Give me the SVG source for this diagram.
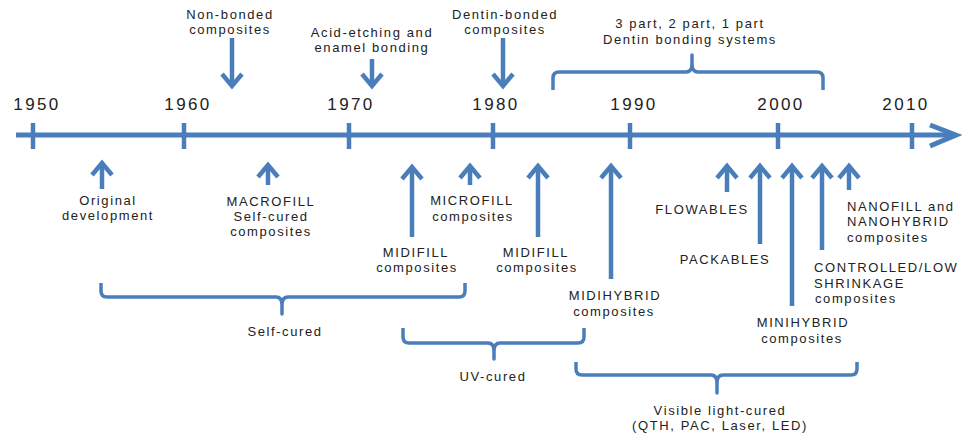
<svg xmlns="http://www.w3.org/2000/svg" width="962" height="439" viewBox="0 0 962 439">
<style>
  text { font-family: "Liberation Sans", Arial, sans-serif; fill: #222; font-size: 13px; letter-spacing: 1.6px; }
  .c { text-anchor: middle; }
  .yr { font-size: 17px; letter-spacing: 2.4px; text-anchor: middle; }
  .arr { stroke: #4a7ebb; stroke-width: 4.5; fill: none; marker-end: url(#ah); }
  .axis { stroke: #4a7ebb; stroke-width: 5; fill: none; }
  .tick { stroke: #4a7ebb; stroke-width: 4.5; }
  .brace { stroke: #4a7ebb; stroke-width: 3.5; fill: none; stroke-linejoin: round; }
</style>
<defs>
  <marker id="ah" markerUnits="userSpaceOnUse" viewBox="-16 -13 20 26" markerWidth="20" markerHeight="26" refX="0" refY="0" orient="auto" overflow="visible">
    <path d="M-12,-10 L0,0 L-12,10" fill="none" stroke="#4a7ebb" stroke-width="4.5"/>
  </marker>
</defs>

<g id="timeline">
  <line class="axis" x1="16" y1="135" x2="955" y2="135"/>
  <path class="axis" d="M930,125 L956,135 L930,146"/>
  <line class="tick" x1="33" y1="123" x2="33" y2="149"/>
  <line class="tick" x1="184" y1="123" x2="184" y2="149"/>
  <line class="tick" x1="349" y1="123" x2="349" y2="149"/>
  <line class="tick" x1="493" y1="123" x2="493" y2="149"/>
  <line class="tick" x1="630" y1="123" x2="630" y2="149"/>
  <line class="tick" x1="778" y1="123" x2="778" y2="149"/>
  <line class="tick" x1="912" y1="123" x2="912" y2="149"/>
  <text class="yr" x="37" y="110">1950</text>
  <text class="yr" x="188" y="110">1960</text>
  <text class="yr" x="351" y="110">1970</text>
  <text class="yr" x="496" y="110">1980</text>
  <text class="yr" x="634" y="110">1990</text>
  <text class="yr" x="781" y="110">2000</text>
  <text class="yr" x="906" y="110">2010</text>
</g>

<g id="connectors">
  <line class="arr" x1="232" y1="38" x2="232" y2="86"/>
  <line class="arr" x1="372" y1="59" x2="372" y2="86"/>
  <line class="arr" x1="503" y1="38" x2="503" y2="86"/>
  <line class="arr" x1="102" y1="189" x2="102" y2="163"/>
  <line class="arr" x1="268" y1="185" x2="268" y2="165"/>
  <line class="arr" x1="412" y1="237" x2="412" y2="167"/>
  <line class="arr" x1="470" y1="185" x2="470" y2="166"/>
  <line class="arr" x1="538" y1="237" x2="538" y2="166"/>
  <line class="arr" x1="611" y1="279" x2="611" y2="166"/>
  <line class="arr" x1="727" y1="192" x2="727" y2="166"/>
  <line class="arr" x1="760" y1="244" x2="760" y2="166"/>
  <line class="arr" x1="792" y1="306" x2="792" y2="166"/>
  <line class="arr" x1="822" y1="250" x2="822" y2="166"/>
  <line class="arr" x1="849" y1="190" x2="849" y2="166"/>
</g>

<g id="braces">
  <path class="brace" d="M553,90 V78 Q553,72 559,72 H686 Q692,72 692,64 V55 V64 Q692,72 698,72 H817 Q823,72 823,78 V90"/>
  <path class="brace" d="M101,283 V291 Q101,297 107,297 H276 Q282,297 282,305 V314 V305 Q282,297 288,297 H459 Q465,297 465,291 V283"/>
  <path class="brace" d="M403,328 V337 Q403,343 409,343 H488 Q494,343 494,351 V359 V351 Q494,343 500,343 H578 Q584,343 584,337 V328"/>
  <path class="brace" d="M576,362 V369 Q576,375 582,375 H711 Q717,375 717,383 V393 V383 Q717,375 723,375 H851 Q857,375 857,369 V362"/>
</g>

<g id="non-bonded">
  <text class="c" x="230" y="19">Non-bonded</text>
  <text class="c" x="230" y="34">composites</text>
</g>
<g id="acid-etching">
  <text class="c" x="372" y="37">Acid-etching and</text>
  <text class="c" x="372" y="52">enamel bonding</text>
</g>
<g id="dentin-bonded">
  <text class="c" x="505" y="19">Dentin-bonded</text>
  <text class="c" x="505" y="34">composites</text>
</g>
<g id="dentin-systems">
  <text class="c" x="690" y="28">3 part, 2 part, 1 part</text>
  <text class="c" x="690" y="44">Dentin bonding systems</text>
</g>
<g id="original">
  <text class="c" x="108" y="205">Original</text>
  <text class="c" x="108" y="220">development</text>
</g>
<g id="macrofill">
  <text class="c" x="271" y="206">MACROFILL</text>
  <text class="c" x="271" y="221">Self-cured</text>
  <text class="c" x="271" y="236">composites</text>
</g>
<g id="midifill-1">
  <text class="c" x="416" y="257">MIDIFILL</text>
  <text class="c" x="417" y="272">composites</text>
</g>
<g id="microfill">
  <text class="c" x="472" y="205">MICROFILL</text>
  <text class="c" x="473" y="221">composites</text>
</g>
<g id="midifill-2">
  <text class="c" x="536" y="257">MIDIFILL</text>
  <text class="c" x="537" y="272">composites</text>
</g>
<g id="midihybrid">
  <text class="c" x="615" y="300">MIDIHYBRID</text>
  <text class="c" x="614" y="316">composites</text>
</g>
<g id="flowables">
  <text class="c" x="702" y="214">FLOWABLES</text>
</g>
<g id="packables">
  <text class="c" x="725" y="264">PACKABLES</text>
</g>
<g id="minihybrid">
  <text class="c" x="803" y="327">MINIHYBRID</text>
  <text class="c" x="802" y="343">composites</text>
</g>
<g id="controlled">
  <text x="814" y="272">CONTROLLED/LOW</text>
  <text x="814" y="288">SHRINKAGE</text>
  <text x="815" y="303">composites</text>
</g>
<g id="nanofill">
  <text x="847" y="211">NANOFILL and</text>
  <text x="847" y="226">NANOHYBRID</text>
  <text x="847" y="242">composites</text>
</g>
<g id="self-cured">
  <text class="c" x="285" y="336">Self-cured</text>
</g>
<g id="uv-cured">
  <text class="c" x="493" y="381">UV-cured</text>
</g>
<g id="visible-light-cured">
  <text class="c" x="720" y="415">Visible light-cured</text>
  <text class="c" x="720" y="430">(QTH, PAC, Laser, LED)</text>
</g>
</svg>
